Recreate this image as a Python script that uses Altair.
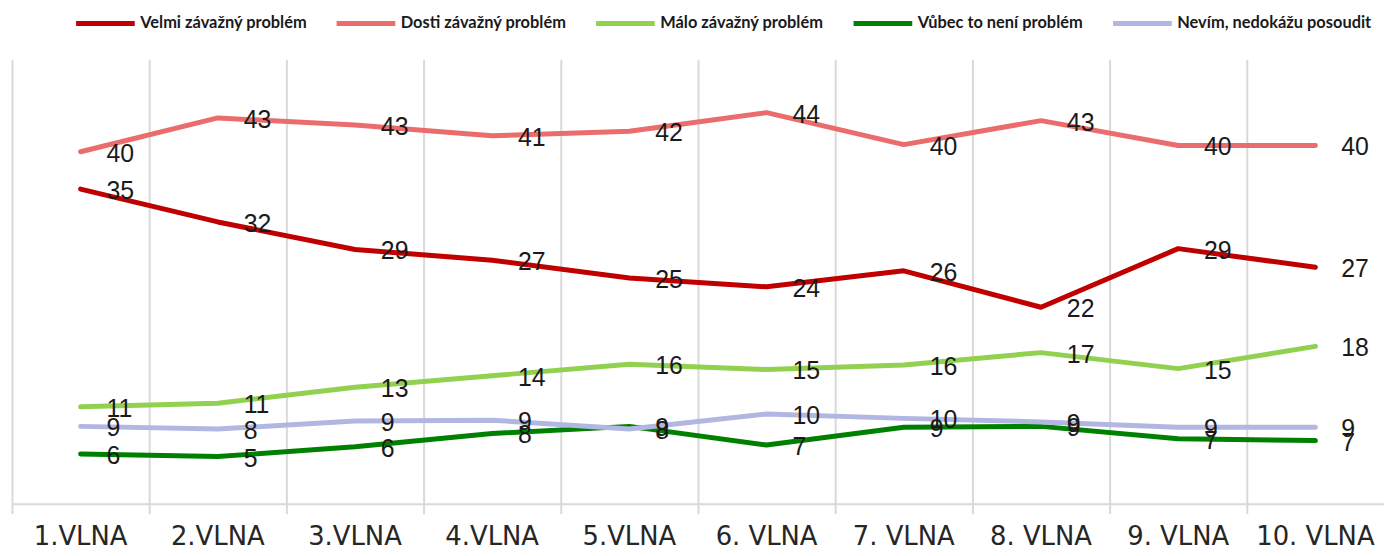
import altair as alt
import pandas as pd

waves = ["1.VLNA", "2.VLNA", "3.VLNA", "4.VLNA", "5.VLNA",
         "6. VLNA", "7. VLNA", "8. VLNA", "9. VLNA", "10. VLNA"]

series = ["Velmi závažný problém", "Dosti závažný problém", "Málo závažný problém",
          "Vůbec to není problém", "Nevím, nedokážu posoudit"]
colors = ["#C00000", "#EB6C6C", "#92D050", "#008000", "#B1B7E1"]

velmi = [35.4, 31.7, 28.6, 27.4, 25.4, 24.4, 26.2, 22.1, 28.7, 26.6]
dosti = [39.6, 43.4, 42.6, 41.4, 41.9, 44.0, 40.4, 43.1, 40.3, 40.3]
malo = [10.9, 11.3, 13.1, 14.4, 15.7, 15.1, 15.6, 17.0, 15.2, 17.7]
vubec = [5.6, 5.3, 6.4, 7.9, 8.7, 6.6, 8.6, 8.7, 7.3, 7.1]
nevim = [8.7, 8.4, 9.3, 9.4, 8.4, 10.1, 9.6, 9.2, 8.6, 8.6]

rows = []
for k, (s, vals) in enumerate(zip(series, [velmi, dosti, malo, vubec, nevim])):
    for w, v in zip(waves, vals):
        rows.append({"vlna": w, "serie": s, "hodnota": v, "poradi": k})
df = pd.DataFrame(rows)

W = 1380
H = 447

x_enc = alt.X(
    "vlna:N", sort=waves,
    scale=alt.Scale(type="band", paddingInner=0, paddingOuter=0),
    axis=alt.Axis(
        title=None, bandPosition=0, labelAngle=0,
        grid=True, gridColor="#D9D9D9", gridWidth=2,
        domainColor="#D9D9D9", domainWidth=2,
        tickColor="#D9D9D9", tickWidth=2, tickSize=10,
        labelFont="DejaVu Sans", labelFontSize=26, labelColor="#262626",
        labelPadding=10,
    ),
)
y_enc = alt.Y("hodnota:Q", scale=alt.Scale(domain=[0, 50], nice=False, zero=True), axis=None)

lines = alt.Chart(df).mark_line(strokeWidth=5, strokeCap="round", strokeJoin="round").encode(
    x=x_enc,
    y=y_enc,
    color=alt.Color(
        "serie:N", sort=series,
        scale=alt.Scale(domain=series, range=colors),
        legend=alt.Legend(
            title=None, orient="none", legendX=62, legendY=-68,
            direction="horizontal", columns=5,
            symbolType="stroke", symbolSize=3481, symbolStrokeWidth=5,
            labelFont="Lato", labelFontWeight="bold", labelFontSize=16.5,
            labelLimit=400,
            labelColor="#1A1A1A", labelOffset=3, columnPadding=19, padding=0,
        ),
    ),
    detail="serie:N",
    order="poradi:Q",
)

labels = alt.Chart(df).mark_text(
    align="left", baseline="middle", dx=26, dy=2,
    fontSize=25, font="Liberation Sans", color="#1A1A1A",
).encode(
    x=x_enc,
    y=y_enc,
    text=alt.Text("hodnota:Q", format=".0f"),
)

chart = alt.layer(lines, labels).properties(
    width=W, height=H,
    autosize="none",
    padding={"left": 4, "top": 50, "right": 0, "bottom": 48},
).configure_view(stroke=None)

chart.save("out.html", embed_options={"renderer": "svg", "actions": False})
